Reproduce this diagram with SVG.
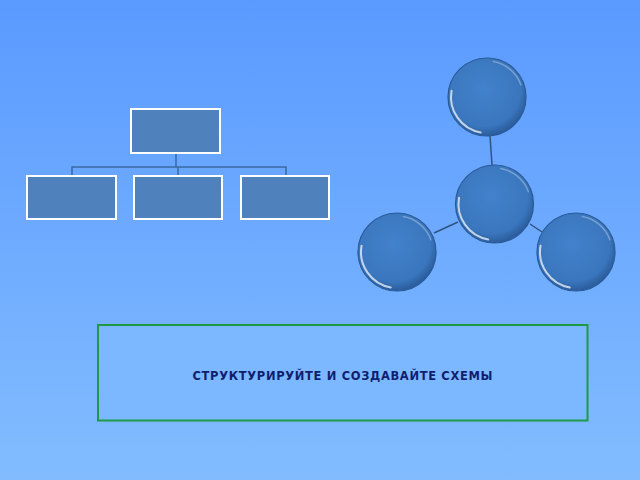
<svg xmlns="http://www.w3.org/2000/svg" width="640" height="480" viewBox="0 0 640 480">
<defs>
<linearGradient id="bg" x1="0" y1="0" x2="0" y2="1">
<stop offset="0" stop-color="#5a9aff"/>
<stop offset="1" stop-color="#82bcff"/>
</linearGradient>
<radialGradient id="ball" cx="0.45" cy="0.4" r="0.6">
<stop offset="0" stop-color="#4282cc"/>
<stop offset="0.8" stop-color="#3a76bd"/>
<stop offset="1" stop-color="#2b5c9c"/>
</radialGradient>
<g id="ballshape">
<circle r="39" fill="url(#ball)" stroke="#2a5a96" stroke-width="1.2"/>
<path d="M-6.25 35.45A36 36 0 0 1-35.45-6.25" fill="none" stroke="#ffffff" stroke-opacity="0.7" stroke-width="2" stroke-linecap="round"/>
<path d="M6.25-35.45A36 36 0 0 1 33.83-12.31" fill="none" stroke="#ffffff" stroke-opacity="0.3" stroke-width="1.5" stroke-linecap="round"/>
</g>
<style>
.box{fill:#4f81bd;stroke:#ffffff;stroke-width:2}
.con{fill:none;stroke:#3a6aa3;stroke-width:1.5}
.con2{fill:none;stroke:#2f5383;stroke-width:1.5}
</style>
</defs>
<rect width="640" height="480" fill="url(#bg)"/>
<g id="connectors">
<path class="con" d="M176 153V167M72 176V167H286V176M178 167V176"/>
<path class="con2" d="M490 136L492 165M434 233L458 222M530 224L542 232"/>
</g>
<g id="org-top"><rect class="box" x="131" y="109" width="89" height="44"/></g>
<g id="org-1"><rect class="box" x="27" y="176" width="89" height="43"/></g>
<g id="org-2"><rect class="box" x="134" y="176" width="88" height="43"/></g>
<g id="org-3"><rect class="box" x="241" y="176" width="88" height="43"/></g>
<g id="ball-top"><use href="#ballshape" x="487" y="97"/></g>
<g id="ball-center"><use href="#ballshape" x="494.5" y="204"/></g>
<g id="ball-left"><use href="#ballshape" x="397" y="252"/></g>
<g id="ball-right"><use href="#ballshape" x="576" y="252"/></g>
<g id="caption">
<rect x="98" y="325" width="489.5" height="95.5" fill="#7cb8ff" stroke="#1e9a46" stroke-width="2"/>
<text x="192.5" y="380" textLength="300" lengthAdjust="spacing" font-family="DejaVu Sans, sans-serif" font-weight="600" font-size="11.5" fill="#101e70">СТРУКТУРИРУЙТЕ И СОЗДАВАЙТЕ СХЕМЫ</text>
</g>
</svg>
